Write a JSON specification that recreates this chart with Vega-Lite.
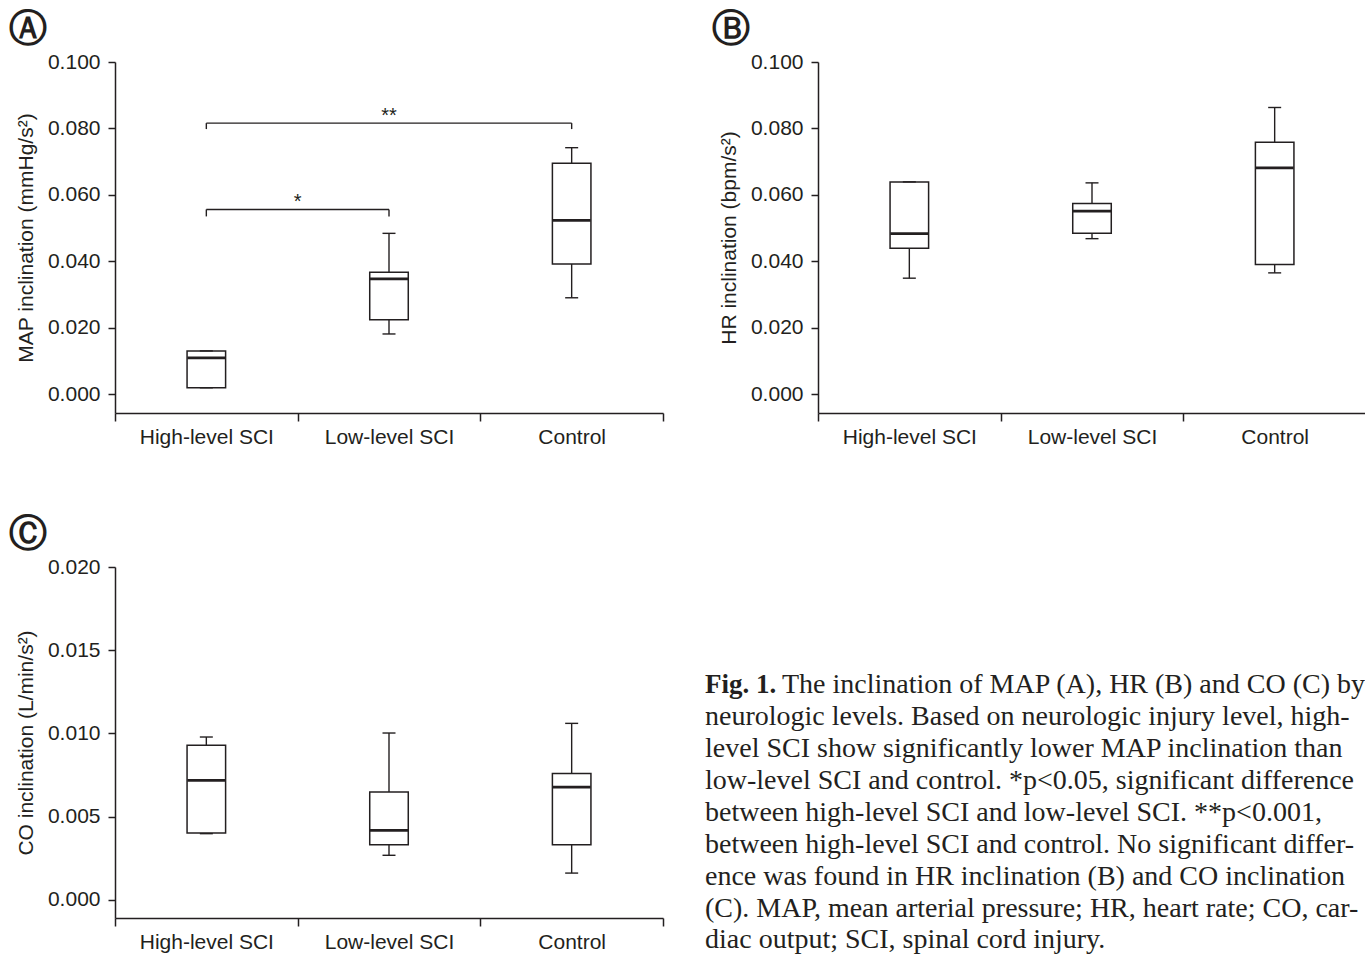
{
  "$schema": "https://vega.github.io/schema/vega-lite/v6.json",
  "padding": {"left": 9, "top": 11, "right": 0, "bottom": 0},
  "background": "white",
  "config": {
    "view": {"stroke": null},
    "font": "Liberation Sans",
    "axis": {
      "grid": false,
      "domainColor": "#231f20", "domainWidth": 1.5,
      "tickColor": "#231f20", "tickWidth": 1.5,
      "labelColor": "#231f20", "labelFont": "Liberation Sans", "labelFontSize": 21,
      "titleColor": "#231f20", "titleFont": "Liberation Sans", "titleFontSize": 21, "titleFontWeight": "normal"
    },
    "axisY": {"tickSize": 7, "labelPadding": 8, "titlePadding": 11},
    "axisX": {"tickSize": 8, "labelPadding": 5, "tickBand": "extent", "labelAngle": 0},
    "title": {"font": "DejaVu Sans", "fontSize": 38, "fontWeight": "bold", "color": "#231f20", "anchor": "start", "frame": "bounds", "offset": 2, "dx": -6}
  },
  "datasets": {
    "map": [
      {"group": "High-level SCI", "min": 0.0019, "q1": 0.0019, "median": 0.0109, "q3": 0.013, "max": 0.013},
      {"group": "Low-level SCI", "min": 0.0181, "q1": 0.0224, "median": 0.0347, "q3": 0.0367, "max": 0.0484},
      {"group": "Control", "min": 0.029, "q1": 0.0392, "median": 0.0523, "q3": 0.0695, "max": 0.0742}
    ],
    "hr": [
      {"group": "High-level SCI", "min": 0.0349, "q1": 0.0439, "median": 0.0483, "q3": 0.0639, "max": 0.0639},
      {"group": "Low-level SCI", "min": 0.0468, "q1": 0.0484, "median": 0.0551, "q3": 0.0574, "max": 0.0636},
      {"group": "Control", "min": 0.0365, "q1": 0.039, "median": 0.0681, "q3": 0.0758, "max": 0.0863}
    ],
    "co": [
      {"group": "High-level SCI", "min": 0.00397, "q1": 0.00401, "median": 0.00717, "q3": 0.00928, "max": 0.00978},
      {"group": "Low-level SCI", "min": 0.00267, "q1": 0.00331, "median": 0.00417, "q3": 0.00647, "max": 0.01002},
      {"group": "Control", "min": 0.0016, "q1": 0.00331, "median": 0.00677, "q3": 0.00758, "max": 0.0106}
    ],
    "brackets": [
      {"from": "High-level SCI", "to": "Control", "top": 0.0816, "bottom": 0.0798},
      {"from": "High-level SCI", "to": "Low-level SCI", "top": 0.0556, "bottom": 0.0535}
    ],
    "bracketEnds": [
      {"group": "High-level SCI", "top": 0.0816, "bottom": 0.0798},
      {"group": "Control", "top": 0.0816, "bottom": 0.0798},
      {"group": "High-level SCI", "top": 0.0556, "bottom": 0.0535},
      {"group": "Low-level SCI", "top": 0.0556, "bottom": 0.0535}
    ],
    "caption": [
      {"line": 1, "part": "bold", "text": "Fig. 1."},
      {"line": 1, "part": "first", "text": "The inclination of MAP (A), HR (B) and CO (C) by"},
      {"line": 2, "part": "body", "text": "neurologic levels. Based on neurologic injury level, high-"},
      {"line": 3, "part": "body", "text": "level SCI show significantly lower MAP inclination than"},
      {"line": 4, "part": "body", "text": "low-level SCI and control. *p<0.05, significant difference"},
      {"line": 5, "part": "body", "text": "between high-level SCI and low-level SCI. **p<0.001,"},
      {"line": 6, "part": "body", "text": "between high-level SCI and control. No significant differ-"},
      {"line": 7, "part": "body", "text": "ence was found in HR inclination (B) and CO inclination"},
      {"line": 8, "part": "body", "text": "(C). MAP, mean arterial pressure; HR, heart rate; CO, car-"},
      {"line": 9, "part": "body", "text": "diac output; SCI, spinal cord injury."}
    ]
  },
  "spacing": 69,
  "vconcat": [
    {
      "bounds": "flush",
      "spacing": 155,
      "hconcat": [
        {
          "width": 548, "height": 351,
          "title": {"text": "Ⓐ"},
          "data": {"name": "map"},
          "layer": [
            {
              "mark": {"type": "rule", "color": "#231f20", "strokeWidth": 1.4},
              "encoding": {
                "x": {"field": "group", "type": "nominal", "title": null, "scale": {"domain": ["High-level SCI", "Low-level SCI", "Control"], "paddingInner": 0, "paddingOuter": 0}},
                "y": {"field": "min", "type": "quantitative", "title": "MAP inclination (mmHg/s²)", "scale": {"domain": [-0.0057, 0.1], "nice": false, "zero": false}, "axis": {"values": [0, 0.02, 0.04, 0.06, 0.08, 0.1], "format": ".3f"}},
                "y2": {"field": "max"}
              }
            },
            {
              "mark": {"type": "bar", "width": {"band": 0.211}, "fill": "white", "stroke": "#231f20", "strokeWidth": 1.5},
              "encoding": {
                "x": {"field": "group", "type": "nominal"},
                "y": {"field": "q1", "type": "quantitative", "title": "MAP inclination (mmHg/s²)"},
                "y2": {"field": "q3"}
              }
            },
            {
              "mark": {"type": "tick", "size": 38, "thickness": 2.8, "color": "#231f20", "opacity": 1},
              "encoding": {
                "x": {"field": "group", "type": "nominal"},
                "y": {"field": "median", "type": "quantitative", "title": "MAP inclination (mmHg/s²)"}
              }
            },
            {
              "mark": {"type": "tick", "size": 13, "thickness": 1.4, "color": "#231f20", "opacity": 1},
              "encoding": {
                "x": {"field": "group", "type": "nominal"},
                "y": {"field": "min", "type": "quantitative", "title": "MAP inclination (mmHg/s²)"}
              }
            },
            {
              "mark": {"type": "tick", "size": 13, "thickness": 1.4, "color": "#231f20", "opacity": 1},
              "encoding": {
                "x": {"field": "group", "type": "nominal"},
                "y": {"field": "max", "type": "quantitative", "title": "MAP inclination (mmHg/s²)"}
              }
            },
            {
              "data": {"name": "brackets"},
              "mark": {"type": "rule", "color": "#231f20", "strokeWidth": 1.4},
              "encoding": {
                "x": {"field": "from", "type": "nominal", "bandPosition": 0.5},
                "x2": {"field": "to", "bandPosition": 0.5},
                "y": {"field": "top", "type": "quantitative", "title": "MAP inclination (mmHg/s²)"}
              }
            },
            {
              "data": {"name": "bracketEnds"},
              "mark": {"type": "rule", "color": "#231f20", "strokeWidth": 1.4},
              "encoding": {
                "x": {"field": "group", "type": "nominal", "bandPosition": 0.5},
                "y": {"field": "bottom", "type": "quantitative", "title": "MAP inclination (mmHg/s²)"},
                "y2": {"field": "top"}
              }
            },
            {
              "data": {"values": [{"group": "Low-level SCI", "y": 0.0816, "label": "**"}]},
              "mark": {"type": "text", "font": "Liberation Sans", "fontSize": 20, "color": "#231f20", "baseline": "alphabetic", "dy": -1},
              "encoding": {
                "x": {"field": "group", "type": "nominal", "bandPosition": 0.5},
                "y": {"field": "y", "type": "quantitative", "title": "MAP inclination (mmHg/s²)"},
                "text": {"field": "label"}
              }
            },
            {
              "data": {"values": [{"group": "High-level SCI", "y": 0.0556, "label": "*"}]},
              "mark": {"type": "text", "font": "Liberation Sans", "fontSize": 20, "color": "#231f20", "baseline": "alphabetic", "dy": -1},
              "encoding": {
                "x": {"field": "group", "type": "nominal", "bandPosition": 1},
                "y": {"field": "y", "type": "quantitative", "title": "MAP inclination (mmHg/s²)"},
                "text": {"field": "label"}
              }
            }
          ]
        },
        {
          "width": 548, "height": 351,
          "title": {"text": "Ⓑ"},
          "data": {"name": "hr"},
          "layer": [
            {
              "mark": {"type": "rule", "color": "#231f20", "strokeWidth": 1.4},
              "encoding": {
                "x": {"field": "group", "type": "nominal", "title": null, "scale": {"domain": ["High-level SCI", "Low-level SCI", "Control"], "paddingInner": 0, "paddingOuter": 0}},
                "y": {"field": "min", "type": "quantitative", "title": "HR inclination (bpm/s²)", "scale": {"domain": [-0.0057, 0.1], "nice": false, "zero": false}, "axis": {"values": [0, 0.02, 0.04, 0.06, 0.08, 0.1], "format": ".3f"}},
                "y2": {"field": "max"}
              }
            },
            {
              "mark": {"type": "bar", "width": {"band": 0.211}, "fill": "white", "stroke": "#231f20", "strokeWidth": 1.5},
              "encoding": {
                "x": {"field": "group", "type": "nominal"},
                "y": {"field": "q1", "type": "quantitative", "title": "HR inclination (bpm/s²)"},
                "y2": {"field": "q3"}
              }
            },
            {
              "mark": {"type": "tick", "size": 38, "thickness": 2.8, "color": "#231f20", "opacity": 1},
              "encoding": {
                "x": {"field": "group", "type": "nominal"},
                "y": {"field": "median", "type": "quantitative", "title": "HR inclination (bpm/s²)"}
              }
            },
            {
              "mark": {"type": "tick", "size": 13, "thickness": 1.4, "color": "#231f20", "opacity": 1},
              "encoding": {
                "x": {"field": "group", "type": "nominal"},
                "y": {"field": "min", "type": "quantitative", "title": "HR inclination (bpm/s²)"}
              }
            },
            {
              "mark": {"type": "tick", "size": 13, "thickness": 1.4, "color": "#231f20", "opacity": 1},
              "encoding": {
                "x": {"field": "group", "type": "nominal"},
                "y": {"field": "max", "type": "quantitative", "title": "HR inclination (bpm/s²)"}
              }
            }
          ]
        }
      ]
    },
    {
      "bounds": "flush",
      "spacing": 42,
      "hconcat": [
        {
          "width": 548, "height": 351,
          "title": {"text": "Ⓒ"},
          "data": {"name": "co"},
          "layer": [
            {
              "mark": {"type": "rule", "color": "#231f20", "strokeWidth": 1.4},
              "encoding": {
                "x": {"field": "group", "type": "nominal", "title": null, "scale": {"domain": ["High-level SCI", "Low-level SCI", "Control"], "paddingInner": 0, "paddingOuter": 0}},
                "y": {"field": "min", "type": "quantitative", "title": "CO inclination (L/min/s²)", "scale": {"domain": [-0.0011, 0.02], "nice": false, "zero": false}, "axis": {"values": [0, 0.005, 0.01, 0.015, 0.02], "format": ".3f"}},
                "y2": {"field": "max"}
              }
            },
            {
              "mark": {"type": "bar", "width": {"band": 0.211}, "fill": "white", "stroke": "#231f20", "strokeWidth": 1.5},
              "encoding": {
                "x": {"field": "group", "type": "nominal"},
                "y": {"field": "q1", "type": "quantitative", "title": "CO inclination (L/min/s²)"},
                "y2": {"field": "q3"}
              }
            },
            {
              "mark": {"type": "tick", "size": 38, "thickness": 2.8, "color": "#231f20", "opacity": 1},
              "encoding": {
                "x": {"field": "group", "type": "nominal"},
                "y": {"field": "median", "type": "quantitative", "title": "CO inclination (L/min/s²)"}
              }
            },
            {
              "mark": {"type": "tick", "size": 13, "thickness": 1.4, "color": "#231f20", "opacity": 1},
              "encoding": {
                "x": {"field": "group", "type": "nominal"},
                "y": {"field": "min", "type": "quantitative", "title": "CO inclination (L/min/s²)"}
              }
            },
            {
              "mark": {"type": "tick", "size": 13, "thickness": 1.4, "color": "#231f20", "opacity": 1},
              "encoding": {
                "x": {"field": "group", "type": "nominal"},
                "y": {"field": "max", "type": "quantitative", "title": "CO inclination (L/min/s²)"}
              }
            }
          ]
        },
        {
          "width": 660, "height": 351,
          "data": {"name": "caption"},
          "encoding": {
            "y": {"field": "line", "type": "quantitative", "scale": {"domain": [-2.959, 8.044], "reverse": true, "nice": false, "zero": false}, "axis": null},
            "x": {"value": 0},
            "text": {"field": "text"}
          },
          "layer": [
            {
              "transform": [{"filter": "datum.part === 'bold'"}],
              "mark": {"type": "text", "align": "left", "baseline": "alphabetic", "font": "Liberation Serif", "fontSize": 27, "fontWeight": "bold", "color": "#231f20"}
            },
            {
              "transform": [{"filter": "datum.part === 'first'"}],
              "mark": {"type": "text", "align": "left", "baseline": "alphabetic", "font": "Liberation Serif", "fontSize": 28, "color": "#231f20", "dx": 77}
            },
            {
              "transform": [{"filter": "datum.part === 'body'"}],
              "mark": {"type": "text", "align": "left", "baseline": "alphabetic", "font": "Liberation Serif", "fontSize": 28, "color": "#231f20"}
            }
          ]
        }
      ]
    }
  ]
}
